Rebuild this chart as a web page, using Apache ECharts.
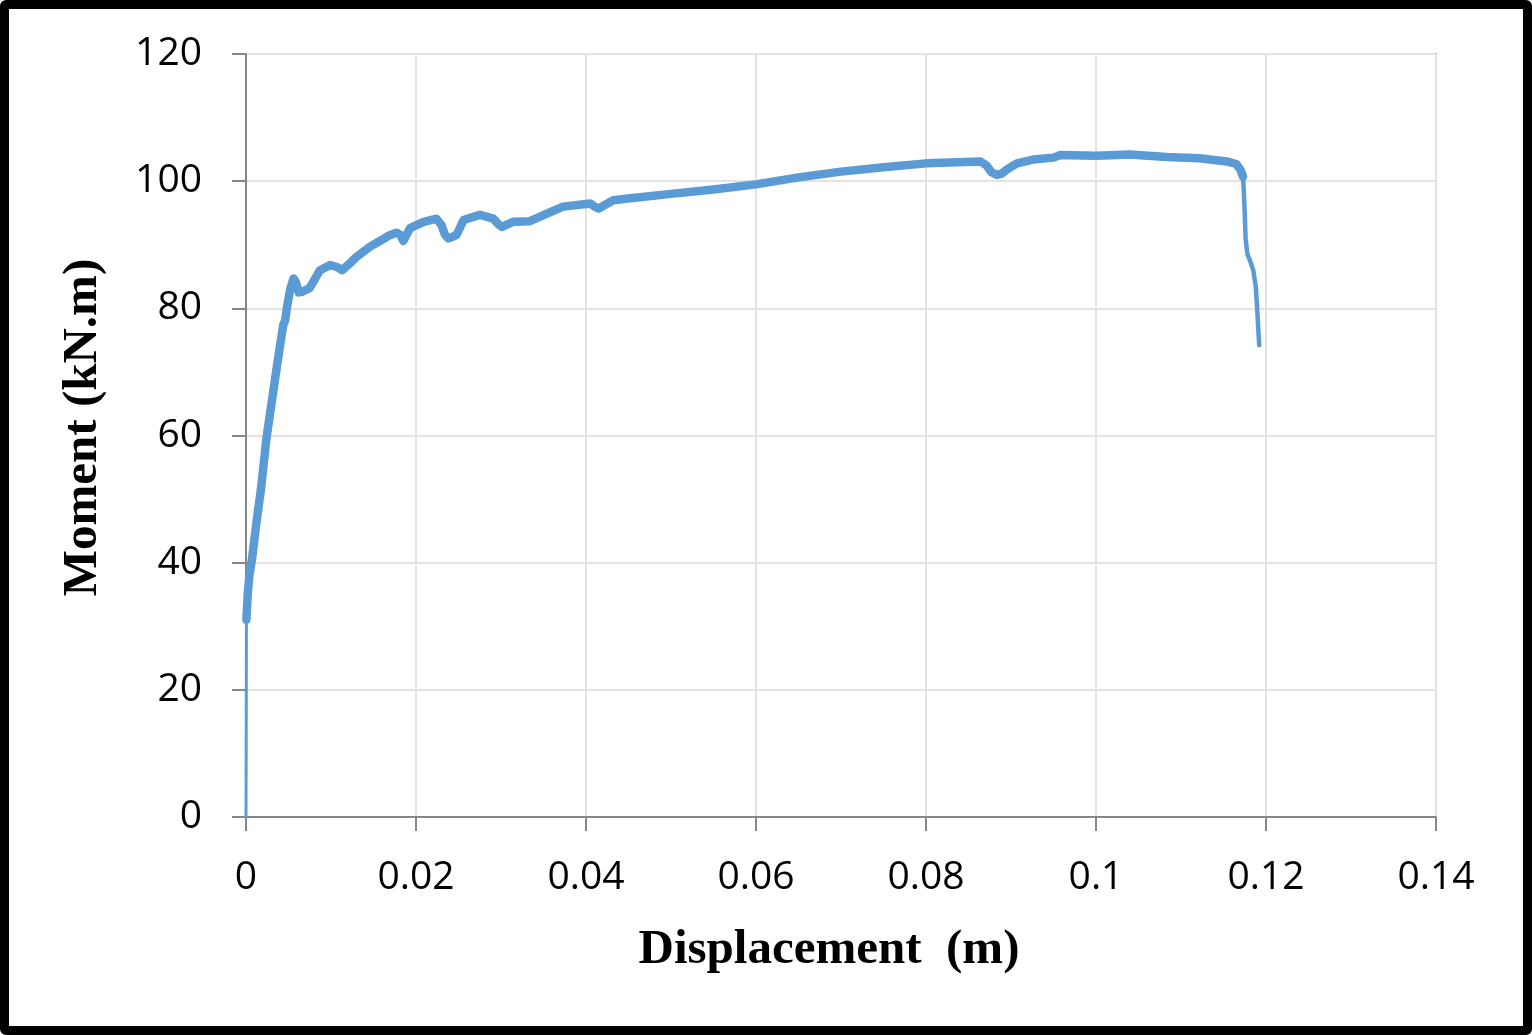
<!DOCTYPE html>
<html>
<head>
<meta charset="utf-8">
<script src="https://cdn.jsdelivr.net/npm/echarts@6/dist/echarts.min.js"></script>
<style>
  html, body { margin: 0; padding: 0; background: #fff; }
  #wrap { position: relative; width: 1532px; height: 1035px; }
  #main { width: 1532px; height: 1035px; }
  #frame {
    position: absolute; left: 0; top: 0; width: 1532px; height: 1035px;
    box-sizing: border-box; border: 9px solid #000; border-radius: 6px;
    pointer-events: none;
  }
</style>
</head>
<body>
<div id="wrap">
  <div id="main"></div>
  <div id="frame"></div>
</div>
<script>
// tick labels
var xTicks = ['0', '0.02', '0.04', '0.06', '0.08', '0.1', '0.12', '0.14'];
var yTicks = ['0', '20', '40', '60', '80', '100', '120'];

// elastic start (thin part on the axis)
var rampDisp = [0, 0.00003, 0.00005];
var rampMoment = [0, 15, 31];

// main response (noisy thick band)
var bandDisp = [0.00005, 0.0002, 0.0004, 0.0007, 0.0012, 0.0018, 0.0024, 0.0030, 0.0036, 0.0041,
  0.0044, 0.0046, 0.0048, 0.0052, 0.0056, 0.0059, 0.0062, 0.0066, 0.0075, 0.0087,
  0.0099, 0.0107, 0.0113, 0.0120, 0.0130, 0.0146, 0.0169, 0.0177, 0.0182, 0.0185,
  0.0189, 0.0193, 0.0209, 0.0224, 0.0230, 0.0234, 0.0238, 0.0244, 0.0248, 0.0256,
  0.0275, 0.0291, 0.0297, 0.0301, 0.0314, 0.0334, 0.0354, 0.0373, 0.0405, 0.0410,
  0.0415, 0.0432, 0.0452, 0.050, 0.055, 0.060, 0.065, 0.070, 0.075, 0.080,
  0.0864, 0.0871, 0.0877, 0.0883, 0.0889, 0.0895, 0.0907, 0.0926, 0.0950, 0.0958,
  0.100, 0.104, 0.1083, 0.1122, 0.1154, 0.1165, 0.1170, 0.1173];
var bandMoment = [31, 35, 38, 40.5, 46, 52, 59.5, 65, 70.5, 75,
  77.5, 78, 80, 83, 84.7, 84, 82.5, 82.6, 83.2, 86.0,
  86.8, 86.5, 86.0, 86.8, 88.1, 89.7, 91.5, 91.9, 91.5, 90.6,
  91.6, 92.6, 93.6, 94.1, 93.1, 91.6, 91.0, 91.3, 91.6, 93.9,
  94.7, 94.1, 93.2, 92.8, 93.6, 93.7, 94.9, 96.0, 96.5, 96.0,
  95.7, 97.0, 97.3, 98.0, 98.7, 99.5, 100.6, 101.5, 102.2, 102.8,
  103.1, 102.5, 101.4, 101.0, 101.2, 101.8, 102.8, 103.4, 103.7, 104.1,
  104.0, 104.2, 103.8, 103.6, 103.1, 102.7, 101.8, 100.7];

// failure drop
var dropDisp = [0.1173, 0.1174, 0.1175, 0.1176, 0.1178, 0.1182, 0.1185, 0.1188, 0.1190, 0.1192];
var dropMoment = [100.7, 98, 94.9, 91, 88.6, 87.2, 86.0, 83.4, 79, 74.2];

function pairs(xs, ys) {
  var out = [];
  for (var i = 0; i < xs.length; i++) out.push([xs[i], ys[i]]);
  return out;
}

var blue = '#5B9BD5';
var chart = echarts.init(document.getElementById('main'));

var option = {
  animation: false,
  grid: {
    left: 246, right: 96, top: 54, bottom: 218,
    show: true, borderColor: '#A6A6A6', borderWidth: 2
  },
  xAxis: {
    type: 'value', min: 0, max: 0.14, interval: 0.02,
    name: 'Displacement  (m)', nameLocation: 'middle', nameGap: 109,
    nameTextStyle: { fontFamily: 'Liberation Serif', fontWeight: 'bold', fontSize: 49, color: '#000', padding: [0, 24, 0, 0] },
    axisLine: { lineStyle: { color: '#878787', width: 2 } },
    axisTick: { show: true, length: 14, lineStyle: { color: '#878787', width: 2 } },
    axisLabel: {
      margin: 41, fontFamily: 'Open Sans', fontSize: 39, color: '#000',
      formatter: function (v) { return xTicks[Math.round(v / 0.02)]; }
    },
    splitLine: { show: true, lineStyle: { color: '#E3E3E3', width: 2 } }
  },
  yAxis: {
    type: 'value', min: 0, max: 120, interval: 20,
    name: 'Moment (kN.m)', nameLocation: 'middle', nameGap: 138, nameRotate: 90,
    nameTextStyle: { fontFamily: 'Liberation Serif', fontWeight: 'bold', fontSize: 49, color: '#000', padding: [0, 0, 0, 16] },
    axisLine: { show: true, lineStyle: { color: '#878787', width: 2 } },
    axisTick: { show: true, length: 14, lineStyle: { color: '#878787', width: 2 } },
    axisLabel: {
      margin: 44, fontFamily: 'Open Sans', fontSize: 39, color: '#000', padding: [6, 0, 0, 0],
      formatter: function (v) { return yTicks[Math.round(v / 20)]; }
    },
    splitLine: { show: true, lineStyle: { color: '#E3E3E3', width: 2 } }
  },
  series: [
    {
      type: 'line', data: pairs(rampDisp, rampMoment), showSymbol: false,
      lineStyle: { color: blue, width: 3, cap: 'round', join: 'round' }
    },
    {
      type: 'line', data: pairs(bandDisp, bandMoment), showSymbol: false,
      lineStyle: { color: blue, width: 8.5, cap: 'round', join: 'round' }
    },
    {
      type: 'line', data: pairs(dropDisp, dropMoment), showSymbol: false,
      lineStyle: { color: blue, width: 4.5, cap: 'round', join: 'round' }
    }
  ]
};

chart.setOption(option);
</script>
</body>
</html>
